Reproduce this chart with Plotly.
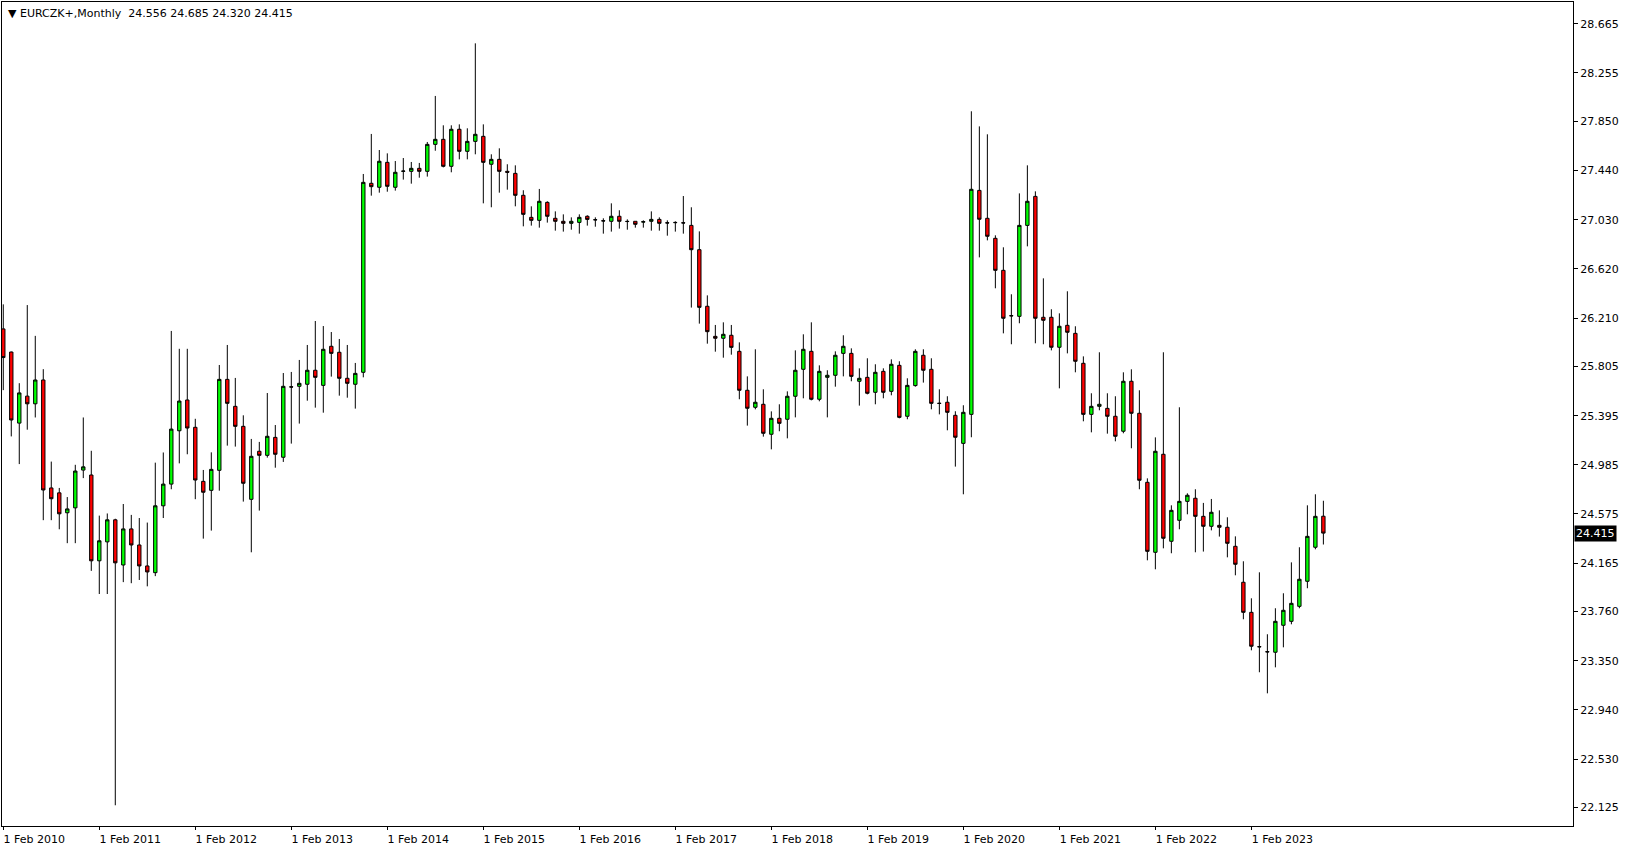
import plotly.graph_objects as go

# Monthly EURCZK+ candles, Feb 2010 .. Nov 2023
open_ = [26.119, 25.926, 25.333, 25.558, 25.494, 25.693, 24.792, 24.751, 24.585, 24.626,
         24.941, 24.900, 24.184, 24.342, 24.526, 24.149, 24.450, 24.316, 24.141, 24.085,
         24.643, 24.824, 25.269, 25.526, 25.298, 24.847, 24.772, 24.939, 25.698, 25.473,
         25.306, 24.697, 25.098, 25.064, 25.214, 25.048, 25.636, 25.640, 25.657, 25.774,
         25.648, 25.974, 25.924, 25.707, 25.657, 25.757, 27.334, 27.301, 27.509, 27.301,
         27.434, 27.434, 27.459, 27.434, 27.659, 27.701, 27.476, 27.785, 27.601, 27.684,
         27.726, 27.493, 27.534, 27.434, 27.417, 27.234, 27.050, 27.025, 27.175, 27.042,
         27.017, 27.000, 27.008, 27.059, 27.031, 27.022, 27.017, 27.059, 27.017, 27.017,
         27.010, 27.017, 27.033, 27.005, 27.008, 27.005, 26.983, 26.780, 26.308, 26.057,
         26.041, 26.066, 25.932, 25.607, 25.465, 25.490, 25.240, 25.373, 25.365, 25.557,
         25.782, 25.932, 25.532, 25.715, 25.732, 25.915, 25.915, 25.682, 25.715, 25.590,
         25.765, 25.598, 25.815, 25.390, 25.646, 25.899, 25.782, 25.499, 25.507, 25.398,
         25.164, 25.406, 27.275, 27.042, 26.875, 26.608, 26.230, 26.224, 26.983, 27.225,
         26.216, 26.216, 25.966, 26.149, 26.082, 25.832, 25.406, 25.473, 25.456, 25.390,
         25.265, 25.682, 25.415, 24.839, 24.255, 25.073, 24.347, 24.522, 24.680, 24.706,
         24.555, 24.472, 24.480, 24.464, 24.305, 24.005, 23.754, 23.468, 23.426, 23.421,
         23.646, 23.679, 23.804, 24.013, 24.297, 24.556]
high = [26.324, 25.930, 25.666, 26.318, 26.061, 25.783, 25.012, 24.792, 24.716, 24.985,
        25.380, 25.102, 24.561, 24.579, 24.535, 24.658, 24.567, 24.541, 24.503, 25.003,
        25.088, 26.102, 25.953, 25.953, 25.369, 24.942, 25.089, 25.818, 25.985, 25.710,
        25.398, 25.201, 25.176, 25.584, 25.317, 25.751, 25.760, 25.860, 25.985, 26.185,
        26.143, 26.093, 26.035, 25.985, 25.835, 27.412, 27.746, 27.612, 27.584, 27.520,
        27.545, 27.512, 27.504, 27.679, 28.063, 27.818, 27.818, 27.826, 27.793, 28.502,
        27.826, 27.576, 27.626, 27.493, 27.484, 27.276, 27.142, 27.287, 27.184, 27.100,
        27.075, 27.050, 27.075, 27.067, 27.050, 27.042, 27.167, 27.109, 27.033, 27.017,
        27.025, 27.100, 27.050, 27.025, 27.017, 27.228, 27.134, 26.933, 26.399, 26.152,
        26.174, 26.152, 26.007, 25.723, 25.949, 25.615, 25.431, 25.490, 25.598, 25.940,
        26.074, 26.174, 25.815, 25.774, 25.932, 26.066, 25.957, 25.790, 25.874, 25.824,
        25.790, 25.865, 25.849, 25.707, 25.949, 25.949, 25.874, 25.615, 25.557, 25.432,
        25.482, 27.935, 27.809, 27.743, 26.900, 26.800, 26.408, 27.250, 27.484, 27.267,
        26.541, 26.283, 26.249, 26.433, 26.141, 25.890, 25.582, 25.924, 25.582, 25.557,
        25.757, 25.782, 25.607, 24.872, 25.214, 25.924, 24.647, 25.465, 24.747, 24.781,
        24.667, 24.700, 24.605, 24.547, 24.388, 24.180, 23.871, 24.088, 23.571, 23.788,
        23.913, 24.171, 24.297, 24.647, 24.739, 24.685]
low = [25.608, 25.222, 24.991, 25.278, 25.380, 24.523, 24.523, 24.447, 24.331, 24.331,
       24.874, 24.100, 23.907, 23.907, 22.144, 24.006, 23.997, 24.024, 23.971, 24.056,
       24.541, 24.781, 24.997, 25.073, 24.698, 24.369, 24.436, 24.769, 25.145, 25.137,
       24.678, 24.255, 24.603, 25.045, 24.961, 25.009, 25.162, 25.329, 25.520, 25.462,
       25.420, 25.721, 25.562, 25.545, 25.454, 25.715, 27.231, 27.256, 27.264, 27.273,
       27.365, 27.331, 27.381, 27.390, 27.606, 27.467, 27.426, 27.534, 27.534, 27.576,
       27.167, 27.134, 27.256, 27.281, 27.142, 26.975, 26.981, 26.964, 27.006, 26.939,
       26.931, 26.947, 26.914, 26.981, 26.972, 26.914, 26.931, 26.956, 26.947, 26.964,
       26.964, 26.939, 26.939, 26.897, 26.931, 26.914, 26.297, 26.163, 25.996, 25.929,
       25.879, 25.904, 25.532, 25.312, 25.448, 25.220, 25.114, 25.265, 25.206, 25.381,
       25.540, 25.523, 25.515, 25.381, 25.637, 25.723, 25.682, 25.479, 25.573, 25.490,
       25.540, 25.565, 25.373, 25.365, 25.637, 25.671, 25.448, 25.406, 25.273, 24.970,
       24.739, 25.215, 26.716, 26.858, 26.458, 26.082, 25.991, 26.166, 26.808, 25.999,
       25.991, 25.940, 25.623, 25.915, 25.757, 25.348, 25.256, 25.440, 25.245, 25.181,
       25.248, 25.123, 24.781, 24.188, 24.113, 24.288, 24.247, 24.447, 24.572, 24.255,
       24.261, 24.438, 24.386, 24.213, 24.063, 23.696, 23.437, 23.254, 23.078, 23.295,
       23.462, 23.654, 23.788, 23.955, 24.280, 24.320]
close = [25.880, 25.359, 25.585, 25.494, 25.693, 24.775, 24.702, 24.576, 24.617, 24.933,
         24.968, 24.184, 24.351, 24.526, 24.167, 24.450, 24.316, 24.141, 24.091, 24.643,
         24.824, 25.283, 25.517, 25.292, 24.858, 24.756, 24.947, 25.698, 25.498, 25.306,
         24.831, 25.056, 25.064, 25.223, 25.073, 25.640, 25.634, 25.665, 25.774, 25.715,
         25.949, 25.915, 25.707, 25.665, 25.748, 27.342, 27.306, 27.518, 27.309, 27.426,
         27.436, 27.459, 27.434, 27.659, 27.701, 27.476, 27.785, 27.601, 27.684, 27.743,
         27.509, 27.534, 27.434, 27.426, 27.234, 27.075, 27.025, 27.184, 27.059, 27.017,
         27.000, 27.017, 27.050, 27.033, 27.029, 27.020, 27.059, 27.017, 27.015, 26.992,
         27.014, 27.033, 27.000, 27.003, 27.006, 27.003, 26.780, 26.299, 26.096, 26.041,
         26.074, 25.965, 25.607, 25.457, 25.507, 25.248, 25.373, 25.331, 25.557, 25.774,
         25.949, 25.532, 25.765, 25.732, 25.899, 25.974, 25.723, 25.707, 25.582, 25.757,
         25.590, 25.824, 25.381, 25.648, 25.932, 25.774, 25.498, 25.497, 25.423, 25.215,
         25.423, 27.284, 27.034, 26.892, 26.608, 26.208, 26.228, 26.983, 27.184, 26.208,
         26.191, 25.966, 26.141, 26.091, 25.849, 25.406, 25.473, 25.490, 25.390, 25.223,
         25.682, 25.415, 24.856, 24.263, 25.098, 24.372, 24.605, 24.680, 24.731, 24.555,
         24.472, 24.589, 24.464, 24.330, 24.155, 23.754, 23.471, 23.466, 23.424, 23.679,
         23.771, 23.829, 24.030, 24.388, 24.555, 24.415]

x_tick_labels = ["1 Feb 2010", "1 Feb 2011", "1 Feb 2012", "1 Feb 2013", "1 Feb 2014",
                 "1 Feb 2015", "1 Feb 2016", "1 Feb 2017", "1 Feb 2018", "1 Feb 2019",
                 "1 Feb 2020", "1 Feb 2021", "1 Feb 2022", "1 Feb 2023"]
y_tick_values = [28.665, 28.255, 27.850, 27.440, 27.030, 26.620, 26.210, 25.805, 25.395,
                 24.985, 24.575, 24.165, 23.760, 23.350, 22.940, 22.530, 22.125]
title_text = "EURCZK+,Monthly"
last_price = 24.415

months = list(range(len(close)))
x_tick_pos = [12 * i for i in range(len(x_tick_labels))]

FONT = "DejaVu Sans"

fig = go.Figure()
fig.add_trace(go.Candlestick(
    x=months, open=open_, high=high, low=low, close=close,
    increasing=dict(fillcolor="#00ff00", line=dict(color="black", width=1)),
    decreasing=dict(fillcolor="#ff0000", line=dict(color="black", width=1)),
    whiskerwidth=0, hoverinfo="skip", showlegend=False,
))

fig.add_annotation(
    xref="paper", yref="paper", x=0, y=1, xanchor="left", yanchor="top",
    xshift=4, yshift=-3, showarrow=False,
    text="\u25BC\u00a0" + title_text + "\u00a0\u00a0" + "\u00a0".join(
        f"{v:.3f}" for v in (open_[-1], high[-1], low[-1], close[-1])),
    font=dict(family=FONT, size=11, color="black"),
)
fig.add_annotation(
    xref="paper", yref="y", x=1, y=last_price, xanchor="left", yanchor="middle",
    xshift=1, showarrow=False, text=f"{last_price:.3f}",
    bgcolor="black", borderpad=1,
    font=dict(family=FONT, size=11, color="white"),
)

fig.update_layout(
    width=1629, height=850,
    margin=dict(l=2, r=56, t=2, b=24),
    paper_bgcolor="white", plot_bgcolor="white",
    font=dict(family=FONT, size=11, color="black"),
    boxgap=0.4,
    xaxis=dict(
        range=[-0.16, 196.2], rangeslider=dict(visible=False),
        tickmode="array", tickvals=x_tick_pos, ticktext=x_tick_labels,
        ticks="outside", ticklen=3, tickcolor="black",
        showgrid=False, zeroline=False,
        showline=True, linecolor="black", linewidth=1, mirror=True,
        ticklabelshift=31, ticklabelstandoff=0,
    ),
    yaxis=dict(
        side="right", range=[21.971, 28.847],
        tickmode="array", tickvals=y_tick_values,
        ticktext=[f"{v:.3f}" for v in y_tick_values],
        ticks="outside", ticklen=4, tickcolor="black",
        showgrid=False, zeroline=False,
        showline=True, linecolor="black", linewidth=1, mirror=True,
    ),
)

fig.write_html(
    "out.html",
    config={"displayModeBar": False},
    post_script="document.body.style.margin='0';document.body.style.overflow='hidden';",
)
